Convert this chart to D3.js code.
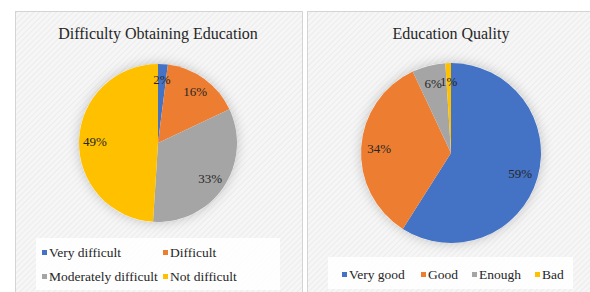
<!DOCTYPE html>
<html lang="en">
<head>
  <meta charset="UTF-8">
  <title>Difficulty Obtaining Education / Education Quality</title>
  <style>
    body {
      margin: 0;
      background: #fff;
    }

    svg {
      display: block;
    }
  </style>
</head>
<body>
  <svg></svg>
<script src="https://cdn.jsdelivr.net/npm/d3@7"></script>
<script>

  let colors = ['#4472C4', '#ED7D31', '#A5A5A5', '#FFC000'];

  let difficultyLabels = ['Very difficult', 'Difficult', 'Moderately difficult', 'Not difficult'];
  let difficultyValues = [2, 16, 33, 49];

  let qualityLabels = ['Very good', 'Good', 'Enough', 'Bad'];
  let qualityValues = [59, 34, 6, 1];

  let width = 590,
    height = 292;

  let svg = d3.select('svg')
    .attr('width', width)
    .attr('height', height)
    .attr('font-family', 'Liberation Serif');

  let defs = svg.append('defs');

  // faint diagonal hatch used as the panel fill
  let pattern = defs.append('pattern')
    .attr('id', 'hatch')
    .attr('patternUnits', 'userSpaceOnUse')
    .attr('width', 4)
    .attr('height', 4)
    .attr('patternTransform', 'rotate(45)');

  pattern.append('rect')
    .attr('width', 4)
    .attr('height', 4)
    .attr('fill', '#f6f6f6');

  pattern.append('line')
    .attr('x1', 0).attr('y1', 0)
    .attr('x2', 0).attr('y2', 4)
    .attr('stroke', '#e9e9e9')
    .attr('stroke-width', 1.5);

  let shadow = defs.append('filter')
    .attr('id', 'shadow')
    .attr('x', '-30%').attr('y', '-30%')
    .attr('width', '160%').attr('height', '160%');

  shadow.append('feDropShadow')
    .attr('dx', 0)
    .attr('dy', 0)
    .attr('stdDeviation', 6)
    .attr('flood-color', '#000')
    .attr('flood-opacity', 0.22);

  let charts = [
    {
      title: 'Difficulty Obtaining Education',
      labels: difficultyLabels,
      values: difficultyValues,
      panel: [15, 11, 287, 300],
      cx: 158, cy: 143, r: 79,
      legendBox: [36, 238, 244, 52],
      legendItems: [[42, 257], [163, 257], [42, 281], [163, 281]]
    },
    {
      title: 'Education Quality',
      labels: qualityLabels,
      values: qualityValues,
      panel: [307, 11, 300, 300],
      cx: 451, cy: 153, r: 90,
      legendBox: [328, 257, 245, 32],
      legendItems: [[342, 279], [421, 279], [472, 279], [535, 279]]
    }
  ];

  let pie = d3.pie()
    .sort(null)
    .value(d => d.value);

  charts.forEach(c => {
    let [px, py, pw, ph] = c.panel;

    svg.append('rect')
      .attr('x', px + 0.5)
      .attr('y', py + 0.5)
      .attr('width', pw)
      .attr('height', ph)
      .attr('fill', 'url(#hatch)')
      .attr('stroke', '#d4d4d4')
      .attr('stroke-width', 1);

    svg.append('text')
      .attr('x', c.cx)
      .attr('y', 39)
      .attr('text-anchor', 'middle')
      .attr('font-size', 16)
      .attr('fill', '#262626')
      .text(c.title);

    let data = c.values.map((v, i) => ({ label: c.labels[i], value: v, color: colors[i] }));
    let arcs = pie(data);
    let total = d3.sum(c.values);

    let arc = d3.arc()
      .innerRadius(0)
      .outerRadius(c.r);

    let labelArc = d3.arc()
      .innerRadius(c.r * 0.8)
      .outerRadius(c.r * 0.8);

    let g = svg.append('g')
      .attr('transform', `translate(${c.cx},${c.cy})`);

    g.append('circle')
      .attr('r', c.r)
      .attr('fill', '#fff')
      .attr('filter', 'url(#shadow)');

    g.selectAll('path')
      .data(arcs)
      .enter()
      .append('path')
      .attr('d', arc)
      .attr('fill', d => d.data.color);

    g.selectAll('.slice-label')
      .data(arcs)
      .enter()
      .append('text')
      .attr('class', 'slice-label')
      .attr('transform', d => `translate(${labelArc.centroid(d)})`)
      .attr('text-anchor', 'middle')
      .attr('dy', '0.35em')
      .attr('font-size', 13)
      .attr('fill', '#262626')
      .text(d => Math.round(d.data.value / total * 100) + '%');

    let [lx, ly, lw, lh] = c.legendBox;

    svg.append('rect')
      .attr('x', lx)
      .attr('y', ly)
      .attr('width', lw)
      .attr('height', lh)
      .attr('fill', '#fff')
      .attr('opacity', 0.85);

    let items = svg.selectAll(null)
      .data(data)
      .enter()
      .append('g')
      .attr('transform', (d, i) => `translate(${c.legendItems[i][0]},${c.legendItems[i][1]})`);

    items.append('rect')
      .attr('x', 0)
      .attr('y', -7)
      .attr('width', 5)
      .attr('height', 5)
      .attr('fill', d => d.color);

    items.append('text')
      .attr('x', 7)
      .attr('y', 0)
      .attr('font-size', 13.5)
      .attr('fill', '#262626')
      .text(d => d.label);
  });
</script>
</body>
</html>
